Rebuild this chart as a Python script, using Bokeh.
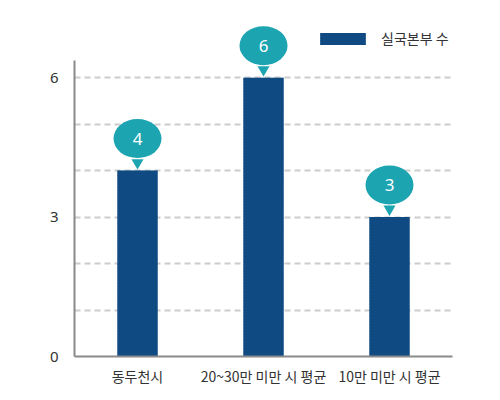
from bokeh.plotting import figure
from bokeh.models import ColumnDataSource, FixedTicker, Legend, LegendItem
from bokeh.core.properties import value
from bokeh.embed import file_html
from bokeh.resources import INLINE

categories = ["동두천시", "20~30만 미만 시 평균", "10만 미만 시 평균"]
counts = [4, 6, 3]
series_name = "실국본부 수"
y_ticks = [0, 3, 6]
grid_ticks = [1, 2, 3, 4, 5, 6]

FONT = "Noto Sans CJK KR"
BAR_COLOR = "#13548f"
BUBBLE_COLOR = "#1ca4b1"

FRAME_H = 336
Y_END = 7.23
PX = Y_END / FRAME_H  # data units per pixel

src = ColumnDataSource(dict(
    cat=categories,
    val=counts,
    bubble_y=[v + 32 * PX for v in counts],
    tip_y=[v + 8 * PX for v in counts],
    label=[str(v) for v in counts],
))

p = figure(
    frame_width=378,
    frame_height=FRAME_H,
    x_range=categories,
    y_range=(0, Y_END),
    output_backend="svg",
    toolbar_location=None,
    min_border_left=74,
    min_border_right=30,
    min_border_top=20,
    min_border_bottom=30,
)
p.x_range.range_padding = 0
p.outline_line_color = None
p.background_fill_color = "white"

bars = p.vbar(
    x="cat", top="val", width=0.32, source=src,
    fill_color=BAR_COLOR, line_color=None,
    hatch_pattern="\\", hatch_color="#083c70", hatch_alpha=0.7,
    hatch_scale=3, hatch_weight=1,
)

# callout bubbles
p.scatter(x="cat", y="tip_y", source=src, marker="inverted_triangle", size=12,
          fill_color=BUBBLE_COLOR, line_color=None)
p.ellipse(x="cat", y="bubble_y", width=48, height=39, width_units="screen",
          height_units="screen", source=src, fill_color=BUBBLE_COLOR, line_color=None)
p.text(x="cat", y="bubble_y", text="label", source=src, text_color="white",
       text_font=value("Noto Sans"), text_font_size="17px",
       text_align="center", text_baseline="middle")

# axes
p.yaxis.ticker = FixedTicker(ticks=y_ticks)
p.yaxis.bounds = (0, 6.37)
p.yaxis.major_tick_line_color = None
p.yaxis.minor_tick_line_color = None
p.yaxis.axis_line_color = "#8a8a8a"
p.yaxis.axis_line_width = 2
p.yaxis.major_label_standoff = 10
p.yaxis.major_label_text_font = "Noto Sans"
p.yaxis.major_label_text_font_size = "15px"
p.yaxis.major_label_text_color = "#333333"

p.xaxis.major_tick_line_color = None
p.xaxis.axis_line_color = "#8a8a8a"
p.xaxis.axis_line_width = 2
p.xaxis.major_label_standoff = 3
p.xaxis.major_label_text_font = FONT
p.xaxis.major_label_text_font_size = "14px"
p.xaxis.major_label_text_color = "#333333"

p.xgrid.grid_line_color = None
p.ygrid.ticker = FixedTicker(ticks=grid_ticks)
p.ygrid.grid_line_color = "#cccccc"
p.ygrid.grid_line_width = 2
p.ygrid.grid_line_dash = "6 4"

legend = Legend(
    items=[LegendItem(label=series_name, renderers=[bars])],
    location=(240, 308),
    glyph_width=57,
    glyph_height=15,
    label_standoff=10,
    padding=0,
    margin=0,
    border_line_color=None,
    background_fill_alpha=0,
    label_text_font=FONT,
    label_text_font_size="14px",
    label_text_color="#333333",
)
p.add_layout(legend)

open("out.html", "w").write(file_html(p, INLINE))
